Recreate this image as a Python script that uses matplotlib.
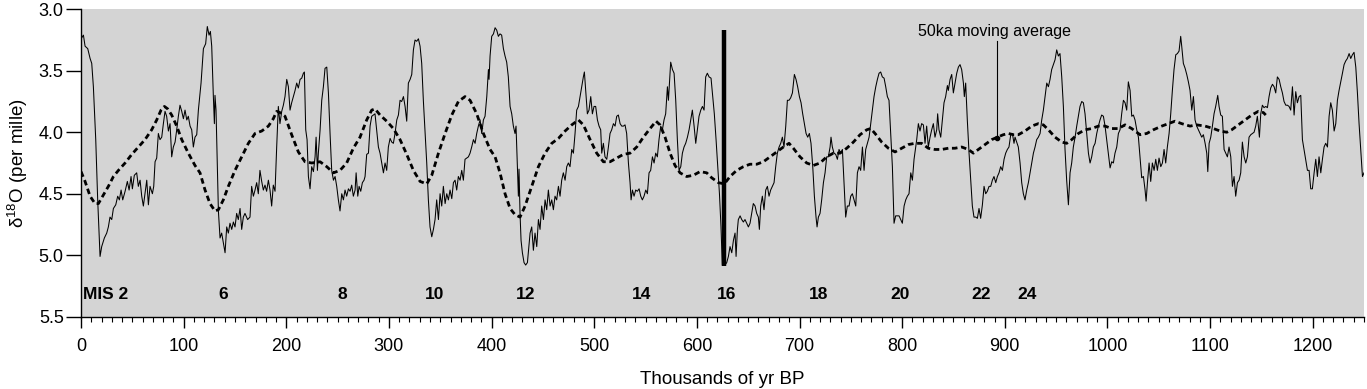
import matplotlib
matplotlib.use("Agg")
import matplotlib.pyplot as plt
from matplotlib.ticker import MultipleLocator, FormatStrFormatter

plt.rcParams['font.family'] = ['Liberation Sans', 'DejaVu Sans']
plt.rcParams['mathtext.fontset'] = 'custom'
plt.rcParams['mathtext.rm'] = 'Liberation Sans'

# benthic d18O record (ka BP, per mille)
age_ka = [
    0, 2.3, 3.9, 6.5, 8.8, 10.4, 12.0, 14.3, 16.2, 18.5, 20.1, 22.7, 25.0, 26.6, 28.2, 29.9,
    31.5, 33.8, 35.7, 37.3, 39.0, 40.6, 42.9, 45.1, 46.8, 48.7, 50.0, 51.9, 54.2, 55.8, 57.5,
    59.1, 60.7, 62.3, 64.0, 65.6, 67.2, 69.5, 70.8, 72.1, 73.7, 75.3, 76.9, 78.6, 80.2, 81.8,
    83.4, 85.1, 86.7, 88.3, 89.9, 91.6, 93.2, 94.8, 96.4, 98.1, 99.7, 101.3, 103.0, 104.5,
    106.2, 107.8, 109.4, 111.0, 112.7, 114.3, 116.9, 119.2, 121.4, 123.0, 124.7, 126.0, 127.3,
    128.9, 129.9, 130.5, 131.5, 133.8, 135.4, 137.0, 138.6, 140.3, 141.9, 143.5, 145.1, 146.8,
    148.4, 150.0, 151.6, 153.2, 154.9, 156.5, 158.1, 159.7, 162.3, 164.6, 166.2, 167.9, 169.5,
    171.1, 172.7, 174.3, 176.0, 177.6, 179.2, 180.8, 182.5, 184.1, 185.7, 187.3, 189.0, 190.6,
    192.2, 193.8, 195.5, 197.1, 198.7,
    200.4, 202.0, 203.6, 205.2, 206.9, 208.5, 210.1, 211.7, 213.4, 215.0, 216.6, 217.6, 218.9,
    220.2, 221.5, 223.1, 224.7, 226.4, 228.0, 229.0, 230.3, 231.2, 232.9, 234.5, 236.1, 237.7,
    239.4, 241.0, 242.6, 244.2, 245.9, 247.5, 249.1, 250.7, 252.3, 254.0, 255.6, 257.2, 258.8,
    260.5, 262.1, 263.7, 265.3, 267.0, 268.0, 269.6, 270.9, 272.5, 274.1, 275.7, 276.7, 278.3,
    280.0, 281.6, 283.2, 284.8, 286.4, 288.1, 289.7, 291.3, 292.9, 294.6, 296.2, 297.8, 299.4,
    301.1, 302.7, 304.3, 305.9, 307.6, 309.2, 310.8, 312.4, 314.1, 315.7, 317.3, 318.9, 320.6,
    322.2, 323.8, 325.4, 327.0, 328.7, 330.3, 331.9, 333.5, 335.2, 336.8, 338.4, 340.0, 341.7,
    343.3, 344.9, 346.5, 348.2, 349.8, 351.4, 353.0, 354.7, 356.3, 357.9, 359.5, 361.2, 362.8,
    364.4, 366.0, 367.6, 369.3, 370.9, 372.5, 374.1, 375.8, 377.4, 379.0, 380.6, 382.3, 383.9,
    385.5, 387.1, 388.8, 390.4, 392.0, 393.6, 395.3, 396.9, 397.5, 398.5, 400.1, 401.8,
    403.4, 405.0, 406.6, 408.2, 409.8, 411.5, 413.1, 414.7, 416.3, 418.0, 419.6, 421.2, 422.8,
    423.8, 425.1, 426.1, 426.7, 427.7, 428.7, 430.0, 431.6, 433.2, 434.9, 435.8, 437.5, 439.1,
    440.7, 442.3, 444.0, 445.6, 447.2, 448.8, 450.5, 452.1, 453.7, 455.3, 457.0, 458.6, 460.2,
    461.8, 463.4, 465.1, 466.7, 468.3, 469.9, 471.6, 473.2, 474.8, 476.4, 478.1, 479.7, 481.3,
    482.9, 484.6, 486.2, 487.8, 489.4, 490.4, 491.7, 493.3, 494.9, 496.6, 498.2, 499.8, 501.4,
    503.1, 504.7, 506.3, 507.3, 508.9, 510.5, 512.2, 513.8, 515.4, 517.0, 518.7, 520.3, 521.9,
    523.5, 525.2, 526.8, 528.4, 530.0, 531.6, 533.3, 534.9, 535.9, 537.2, 538.8, 540.4, 542.0,
    543.7, 545.3, 546.9, 548.5, 550.2, 551.8, 553.4, 555.0, 556.7, 558.3, 559.9, 561.5, 563.1,
    564.8, 566.4, 568.0, 569.6, 571.3, 572.3, 573.3, 574.5, 576.2, 577.8, 579.4, 581.0, 582.6,
    584.3, 585.9, 587.5, 589.1, 590.8, 592.4, 594.0, 595.6, 597.3, 598.9, 600.5, 602.1, 603.8,
    605.4, 607.0, 608.6, 610.2, 611.9,
    613.8, 615.1, 617.0, 618.7, 620.3, 622.0, 623.5, 624.8, 627.4, 629.1, 630.7, 632.3, 634.0,
    635.6, 637.2, 638.2, 639.5, 640.4, 642.1, 643.7, 645.3, 646.9, 648.6, 650.2, 651.8, 653.4,
    655.0, 656.7, 658.3, 659.9, 660.9, 662.2, 663.8, 665.4, 667.1, 668.7, 670.3, 671.9, 673.6,
    675.2, 676.8, 678.4, 680.1, 681.7, 683.3, 684.9, 686.6, 688.2, 689.8, 691.4, 693.1, 695.0,
    696.6, 698.2, 699.9, 701.5, 703.1, 704.7, 706.4, 708.0, 709.6, 711.2, 712.9, 714.5, 716.1,
    717.1, 718.4, 720.0, 721.6, 723.3, 724.9, 726.5, 728.1, 729.8, 730.7, 732.0, 733.6, 735.3,
    736.9, 738.5, 740.1, 741.8, 743.4, 745.0, 746.6, 748.3, 749.9, 751.5, 753.1, 754.8, 756.4,
    758.0, 759.6, 761.3, 762.9, 764.5, 766.1, 767.8, 769.4, 771.0, 772.6, 774.3, 775.9, 777.5,
    779.1, 780.7, 782.4, 784.0, 785.6, 787.2, 788.9, 790.5, 792.1, 793.7, 795.4, 797.0, 798.6,
    800.2, 801.9, 803.5, 805.1, 806.7, 808.4, 810.0, 811.6,
    814.2, 815.8, 817.4, 819.0, 820.7, 822.3, 823.9, 825.5, 827.2, 828.8, 830.4, 832.0, 833.7,
    834.6, 835.9, 837.6, 839.2, 840.8, 842.4, 844.1, 845.0, 846.7, 848.3, 849.9, 851.5, 853.2,
    854.8, 856.4, 858.0, 859.7, 860.6, 861.9, 863.5, 865.2, 866.8, 868.4, 870.0, 871.7, 873.3,
    874.9, 876.5, 878.2, 879.8, 881.4, 883.0, 884.7, 886.3, 887.9, 889.5, 891.2, 892.8, 894.4,
    896.0, 897.7, 899.3, 900.9, 902.5, 904.1, 905.8, 907.4, 909.0, 910.0, 911.6, 913.2, 914.9,
    916.5, 918.1, 919.7, 921.4, 923.0, 924.6, 926.2, 927.9, 929.5, 931.1, 932.7, 934.4, 936.0,
    937.6, 939.2, 940.9, 942.5, 944.1, 945.7, 947.4, 949.0, 950.6, 952.2, 953.8, 955.5, 957.1,
    958.7, 960.3, 962.0, 963.6, 965.2, 966.8, 968.5, 970.1, 971.7, 973.3, 975.0, 976.6, 978.2,
    979.8, 981.5, 983.1, 984.7, 986.3, 988.0, 989.6, 991.2, 992.8, 994.4, 996.1, 997.7, 999.3,
    1000.9, 1002.6, 1004.2, 1005.8, 1007.4, 1009.1, 1010.7, 1012.3, 1013.9, 1015.6, 1017.2,
    1018.8,
    1020.4, 1022.1, 1023.7, 1025.3, 1026.9, 1028.6, 1030.2, 1031.8, 1033.4, 1035.1, 1036.7,
    1037.7, 1039.0, 1040.6, 1042.2, 1043.8, 1045.5, 1047.1, 1048.7, 1050.3, 1052.0, 1053.6,
    1055.2, 1056.8, 1058.4, 1060.1, 1061.7, 1063.3, 1064.9, 1066.6, 1068.2, 1069.8, 1071.4,
    1072.4, 1074.0, 1075.7, 1077.3, 1078.9, 1080.5, 1082.2, 1083.8, 1085.4, 1087.0, 1088.7,
    1090.3, 1091.9, 1093.5, 1095.2, 1096.8, 1097.8, 1099.1, 1100.7, 1102.3, 1103.9, 1105.5,
    1107.5, 1108.8, 1110.4, 1112.0, 1113.7, 1115.3, 1116.9, 1118.5, 1120.2, 1121.8, 1123.4,
    1125.0, 1126.7, 1128.3, 1129.9, 1131.5, 1133.2, 1134.8, 1136.4, 1138.0, 1139.7, 1141.3,
    1142.9, 1144.5, 1146.1, 1147.1, 1148.1, 1149.4, 1151.0, 1152.6, 1154.3, 1155.9, 1157.5,
    1159.1, 1160.8, 1162.4, 1164.0, 1165.6, 1167.3, 1168.9, 1170.5, 1172.1, 1173.8, 1175.4,
    1177.0, 1178.6, 1180.3, 1181.9, 1183.5, 1185.1, 1186.8, 1188.4, 1190.0, 1191.6, 1193.2,
    1194.9, 1196.5, 1198.1, 1199.7, 1201.4, 1203.0, 1204.6, 1206.2, 1207.9, 1209.5, 1211.1,
    1212.7, 1214.4, 1216.0, 1217.6, 1219.2, 1220.9, 1222.5, 1224.1, 1225.7, 1227.4, 1229.0,
    1230.6, 1232.2, 1233.8, 1235.5, 1237.1, 1238.7, 1240.3, 1242.0, 1243.6, 1245.2, 1246.8,
    1248.5, 1250.0,
]
d18o = [
    3.24, 3.21, 3.30, 3.32, 3.40, 3.44, 3.63, 4.06, 4.55, 5.01, 4.93, 4.86, 4.82, 4.77, 4.69, 4.71,
    4.62, 4.59, 4.52, 4.55, 4.47, 4.55, 4.48, 4.40, 4.47, 4.36, 4.46, 4.35, 4.33, 4.44, 4.39,
    4.52, 4.60, 4.50, 4.39, 4.59, 4.44, 4.50, 4.44, 4.24, 4.21, 4.01, 4.06, 4.04, 3.93, 3.83,
    3.87, 3.99, 3.93, 4.20, 4.12, 4.08, 3.98, 3.87, 3.78, 3.83, 3.89, 3.82, 3.90, 3.87,
    3.95, 3.98, 4.12, 4.04, 4.02, 3.82, 3.60, 3.32, 3.28, 3.14, 3.21, 3.18, 3.30,
    3.71, 3.93, 3.70, 3.82, 4.64, 4.86, 4.82, 4.90, 4.98, 4.77, 4.82, 4.74, 4.79,
    4.73, 4.77, 4.66, 4.71, 4.62, 4.79, 4.69, 4.66, 4.71, 4.69, 4.44, 4.52, 4.47,
    4.41, 4.50, 4.31, 4.40, 4.47, 4.43, 4.48, 4.39, 4.47, 4.60, 4.43, 4.48, 4.12,
    3.79, 3.93, 3.83, 3.78, 3.71,
    3.57, 3.63, 3.82, 3.76, 3.71, 3.66, 3.60, 3.64, 3.57, 3.56, 3.52, 3.51, 3.98,
    4.06, 4.36, 4.46, 4.28, 4.32, 4.20, 4.04, 4.31, 4.17, 3.98, 3.74, 3.63, 3.48,
    3.47, 3.68, 4.01, 4.31, 4.39, 4.36, 4.44, 4.55, 4.64, 4.50, 4.55, 4.47, 4.52,
    4.46, 4.48, 4.43, 4.52, 4.47, 4.33, 4.52, 4.44, 4.48, 4.41, 4.39, 4.36, 4.18,
    4.17, 3.95, 3.87, 3.86, 3.85, 3.99, 4.12, 4.17, 4.25, 4.33, 4.25, 4.31, 4.12,
    4.05, 4.08, 4.09, 4.01, 3.90, 3.86, 3.74, 3.75, 3.71, 3.79, 3.91, 3.60, 3.57,
    3.53, 3.33, 3.25, 3.26, 3.24, 3.30, 3.44, 3.74, 4.01, 4.25, 4.55, 4.77, 4.85,
    4.79, 4.71, 4.55, 4.71, 4.50, 4.60, 4.44, 4.58, 4.50, 4.55, 4.47, 4.54, 4.41,
    4.39, 4.47, 4.36, 4.39, 4.31, 4.39, 4.22, 4.21, 4.20, 4.17, 4.12, 4.06, 4.09,
    4.01, 3.95, 3.90, 4.01, 3.90, 3.87, 3.71, 3.49, 3.57, 3.38, 3.22, 3.20,
    3.15, 3.17, 3.22, 3.20, 3.21, 3.32, 3.38, 3.43, 3.55, 3.79, 3.85, 3.95, 4.01,
    3.95, 4.28, 4.52, 4.30, 4.66, 4.88, 4.98, 5.06, 5.08, 5.06, 4.98, 4.82, 4.77,
    4.96, 4.82, 4.93, 4.71, 4.79, 4.60, 4.71, 4.55, 4.63, 4.47, 4.60, 4.55, 4.63,
    4.52, 4.55, 4.44, 4.52, 4.39, 4.33, 4.39, 4.28, 4.25, 4.28, 4.14, 4.17, 4.01,
    3.82, 3.79, 3.71, 3.63, 3.55, 3.51, 3.66, 3.85, 3.82, 3.71, 3.85, 3.79, 3.79,
    3.90, 3.95, 3.98, 4.17, 4.09, 4.20, 4.22, 4.12, 4.01, 3.98, 3.93, 3.95, 3.87,
    3.86, 3.93, 3.95, 3.95, 3.94, 4.01, 4.25, 4.41, 4.55, 4.47, 4.52, 4.47, 4.48,
    4.46, 4.52, 4.55, 4.52, 4.47, 4.50, 4.33, 4.31, 4.20, 4.25, 4.17, 4.20, 4.06,
    3.95, 3.98, 3.90, 3.85, 3.63, 3.74, 3.60, 3.43, 3.49, 3.52, 3.74, 4.06, 4.31,
    4.28, 4.17, 4.12, 4.09, 4.04, 3.98, 3.90, 3.82, 3.95, 4.09, 3.98, 3.87, 3.82,
    3.79, 3.82, 3.55, 3.52, 3.55,
    3.56, 3.68, 3.85, 4.06, 4.28, 4.50, 4.77, 5.08, 5.08, 5.06, 5.01, 4.93, 4.98,
    4.88, 4.82, 5.01, 4.79, 4.71, 4.68, 4.71, 4.73, 4.71, 4.74, 4.77, 4.74, 4.66,
    4.58, 4.60, 4.66, 4.69, 4.79, 4.60, 4.52, 4.63, 4.47, 4.44, 4.52, 4.47, 4.44,
    4.41, 4.28, 4.17, 4.12, 4.09, 4.04, 4.12, 3.95, 3.74, 3.74, 3.72, 3.68, 3.53,
    3.57, 3.63, 3.71, 3.76, 3.85, 3.93, 4.01, 4.04, 4.01, 4.09, 4.28, 4.52, 4.69,
    4.77, 4.69, 4.66, 4.55, 4.41, 4.33, 4.20, 4.20, 4.12, 4.04, 4.12, 4.17, 4.18,
    4.22, 4.14, 4.17, 4.14, 4.41, 4.69, 4.60, 4.60, 4.52, 4.50, 4.55, 4.60, 4.33,
    4.28, 4.31, 4.12, 4.31, 4.14, 4.09, 4.04, 3.93, 3.82, 3.71, 3.63, 3.57, 3.52,
    3.51, 3.55, 3.56, 3.63, 3.71, 3.74, 4.01, 4.28, 4.74, 4.68, 4.68, 4.68, 4.71,
    4.74, 4.60, 4.55, 4.52, 4.50, 4.33, 4.39, 4.22,
    4.06, 3.93, 3.99, 3.93, 3.94, 4.09, 3.95, 4.12, 4.04, 3.98, 3.93, 4.04, 3.98,
    3.85, 3.98, 4.04, 3.90, 3.76, 3.71, 3.62, 3.66, 3.57, 3.53, 3.68, 3.60, 3.52,
    3.47, 3.45, 3.49, 3.60, 3.71, 3.60, 3.90, 4.17, 4.39, 4.60, 4.69, 4.69, 4.70,
    4.62, 4.70, 4.59, 4.44, 4.50, 4.48, 4.44, 4.44, 4.39, 4.36, 4.41, 4.36, 4.33,
    4.28, 4.31, 4.22, 4.17, 4.14, 4.12, 4.02, 4.01, 4.09, 4.04, 4.08, 4.12, 4.25,
    4.41, 4.50, 4.55, 4.47, 4.41, 4.33, 4.25, 4.17, 4.12, 4.06, 4.04, 4.01, 3.90,
    3.82, 3.71, 3.60, 3.63, 3.57, 3.49, 3.45, 3.41, 3.33, 3.38, 3.36, 3.55, 3.79,
    4.14, 4.39, 4.59, 4.33, 4.25, 4.12, 4.04, 3.95, 3.87, 3.79, 3.75, 3.76, 3.85,
    4.01, 4.17, 4.25, 4.20, 4.12, 4.09, 4.01, 3.95, 3.90, 3.86, 3.87, 3.95, 4.06,
    4.17, 4.29, 4.24, 4.25, 4.17, 4.12, 4.01, 3.98, 3.85, 3.74, 3.76,
    3.82,
    3.59, 3.66, 3.87, 3.86, 3.90, 3.98, 4.04, 4.20, 4.37, 4.36, 4.47,
    4.56, 4.41, 4.25, 4.40, 4.25, 4.31, 4.22, 4.31, 4.21, 4.28, 4.25,
    4.14, 4.25, 4.12, 4.01, 3.85, 3.66, 3.49, 3.37, 3.36, 3.34, 3.22,
    3.30, 3.44, 3.48, 3.53, 3.59, 3.66, 3.82, 3.71, 3.90, 3.95, 3.98,
    4.01, 4.04, 4.02, 4.09, 4.17, 4.32, 4.09, 4.04, 3.95, 3.85, 3.79,
    3.70, 3.79, 3.86, 3.87, 4.14, 4.17, 4.20, 4.12, 4.20, 4.44, 4.36,
    4.52, 4.41, 4.39, 4.33, 4.08, 4.20, 4.25, 4.20, 4.04, 4.02, 4.01,
    4.00, 3.95, 3.87, 3.95, 4.04, 3.85, 3.78, 3.80, 3.79, 3.80, 3.71,
    3.64, 3.61, 3.63, 3.68, 3.55, 3.57, 3.63, 3.68, 3.75, 3.78, 3.78,
    3.79, 3.82, 3.63, 3.86, 3.67, 3.76, 3.71, 3.70, 4.06, 4.14, 4.22,
    4.31, 4.31, 4.46, 4.46, 4.33, 4.22, 4.36, 4.20, 4.33, 4.22, 4.12,
    4.09, 4.12, 3.87, 3.76, 3.82, 3.99, 3.93, 3.74, 3.66, 3.59, 3.52,
    3.45, 3.42, 3.40, 3.36, 3.40, 3.37, 3.35, 3.47, 3.68, 3.93, 4.14,
    4.36, 4.33,
]

# 50 ka moving average
ma_age = [
    0, 3.9, 8.8, 13.6, 16.9, 21.8, 26.6, 31.5, 36.4, 42.9, 49.4, 55.8, 62.3, 68.8, 73.7, 77.9,
    81.2, 84.4, 88.3, 93.2, 98.1, 104.5, 111.0, 115.9, 120.8, 125.6, 130.5, 133.8, 138.6, 143.5,
    150.0, 156.5, 163.0, 169.5, 176.0, 182.5, 187.3, 190.6, 193.8, 198.7, 205.2, 211.7, 218.2,
    224.7, 232.9, 239.4, 245.9, 252.3, 258.8, 265.3, 271.8, 278.3, 283.2, 286.4, 291.3, 297.8,
    304.3, 310.8, 317.3, 323.8, 330.3, 336.8, 341.7, 348.2, 354.7, 361.2, 367.6, 374.1, 379.0,
    385.5, 392.0, 398.5, 403.4, 408.2, 413.1, 418.0, 422.8, 427.7, 432.6, 439.1, 445.6, 452.1,
    458.6, 465.1, 471.6, 478.1, 484.6, 489.4, 496.0, 502.4, 508.9, 515.4, 521.9, 528.4, 534.9,
    541.4, 547.9, 554.4, 560.2, 564.1, 569.0, 573.9, 578.7, 583.6, 590.1, 596.6, 603.1, 609.6,
    614.4, 621.0, 626.8, 632.3, 638.8, 645.3, 651.8, 658.3, 664.8, 671.3, 677.8, 684.3, 689.8,
    694.0, 700.5, 707.0, 713.5, 720.0, 726.5, 733.0, 739.5, 746.0, 752.5, 759.0, 765.5, 769.4,
    773.6, 780.1, 786.6, 793.1, 799.6, 806.1, 812.6, 819.0, 825.5, 832.0, 838.5, 845.0, 851.5,
    858.0, 864.5, 869.4, 874.3, 880.8, 887.3, 892.8, 898.6, 903.5, 908.4, 913.2, 919.7, 926.2,
    932.7, 937.6, 942.5, 949.0, 955.5, 960.3, 965.2, 971.7, 978.2, 984.7, 991.2, 997.7, 1004.2,
    1010.7, 1017.2, 1023.7, 1031.8, 1038.3, 1044.8, 1052.9, 1059.4, 1065.9, 1072.4, 1080.5,
    1087.0, 1095.2, 1103.3, 1109.8, 1116.3, 1121.1, 1127.6, 1134.1, 1140.6, 1147.1, 1152.0,
    1154.3,
]
ma_d18o = [
    4.32, 4.40, 4.52, 4.58, 4.58, 4.51, 4.44, 4.36, 4.31, 4.25, 4.18, 4.12, 4.06, 3.98, 3.90, 3.82,
    3.79, 3.81, 3.86, 3.95, 4.06, 4.17, 4.27, 4.33, 4.47, 4.58, 4.64, 4.63, 4.55, 4.44,
    4.31, 4.20, 4.09, 4.01, 3.99, 3.95, 3.89, 3.83, 3.84, 3.87, 4.02, 4.16, 4.24,
    4.25, 4.24, 4.28, 4.33, 4.31, 4.25, 4.13, 4.04, 3.90, 3.82, 3.81, 3.86, 3.91,
    3.97, 4.06, 4.18, 4.31, 4.40, 4.42, 4.35, 4.17, 4.01, 3.86, 3.75, 3.71, 3.74,
    3.85, 4.01, 4.14, 4.20, 4.33, 4.50, 4.62, 4.67, 4.69, 4.60, 4.44, 4.28, 4.17,
    4.09, 4.05, 3.99, 3.94, 3.90, 3.94, 4.06, 4.17, 4.24, 4.24, 4.21, 4.18, 4.17,
    4.12, 4.04, 3.97, 3.91, 3.94, 4.04, 4.17, 4.27, 4.33, 4.36, 4.35, 4.32, 4.33,
    4.37, 4.41, 4.42, 4.36, 4.31, 4.28, 4.26, 4.26, 4.24, 4.20, 4.16, 4.12, 4.09,
    4.13, 4.20, 4.25, 4.27, 4.25, 4.20, 4.17, 4.17, 4.13, 4.08, 4.02, 3.98, 3.97,
    4.01, 4.08, 4.13, 4.16, 4.13, 4.10, 4.09, 4.09, 4.13, 4.14, 4.14, 4.13, 4.13,
    4.12, 4.14, 4.17, 4.14, 4.10, 4.06, 4.04, 4.02, 4.01, 4.02, 4.02, 3.99, 3.95,
    3.93, 3.94, 3.98, 4.04, 4.08, 4.09, 4.06, 4.01, 3.98, 3.97, 3.95, 3.95, 3.97,
    3.97, 3.94, 3.97, 4.02, 4.01, 3.98, 3.95, 3.93, 3.91, 3.93, 3.95,
    3.94, 3.95, 3.97, 3.99, 4.00, 3.98, 3.94, 3.90, 3.86, 3.83, 3.84,
    3.86,
]

mis_labels = ['MIS 2', '6', '8', '10', '12', '14', '16', '18', '20', '22', '24']
mis_age = [2, 138.6, 255, 344, 433.6, 546, 629, 719, 798, 876.8, 922]
mis_level = 5.32

bar_age = 626
bar_top, bar_bottom = 3.17, 5.09

note_text = '50ka moving average'
note_age, note_d18o = 892.2, 4.05
note_top = 3.26

fig = plt.figure(figsize=(13.67, 3.89), dpi=100)
ax = fig.add_axes([0.0593, 0.1859, 0.9385, 0.7902])
ax.set_facecolor('#d4d4d4')

ax.plot(age_ka, d18o, color='black', lw=0.75)
ax.plot(ma_age, ma_d18o, color='black', lw=2.0, dashes=(2.0, 1.3))
ax.plot([bar_age, bar_age], [bar_top, bar_bottom], color='black', lw=3.2, solid_capstyle='butt')

ax.plot([note_age, note_age], [note_top, note_d18o], color='black', lw=0.8)
ax.plot([note_age], [note_d18o], 'o', color='black', ms=3)
ax.text(815.5, 3.18, note_text, fontsize=11.5, ha='left', va='center')

for i, (lab, x) in enumerate(zip(mis_labels, mis_age)):
    ax.text(x, mis_level, lab, ha='left' if i == 0 else 'center', va='center',
            fontsize=12.5, fontweight='bold')

ax.set_xlim(0, 1250)
ax.set_ylim(5.5, 3.0)
ax.xaxis.set_major_locator(MultipleLocator(100))
ax.xaxis.set_minor_locator(MultipleLocator(10))
ax.yaxis.set_major_locator(MultipleLocator(0.5))
ax.yaxis.set_major_formatter(FormatStrFormatter('%.1f'))

for side in ['top', 'right']:
    ax.spines[side].set_visible(False)
for side in ['left', 'bottom']:
    ax.spines[side].set_linewidth(1.0)

ax.tick_params(axis='x', which='major', direction='out', length=8, width=1.0, labelsize=13, pad=7)
ax.tick_params(axis='x', which='minor', direction='out', length=3.5, width=0.8)
ax.tick_params(axis='y', which='major', direction='out', length=11, width=1.0, labelsize=13, pad=1.5)

ax.set_xlabel('Thousands of yr BP', fontsize=13.5, labelpad=12)
ax.set_ylabel(r'δ$^{\mathregular{18}}$O (per mille)', fontsize=13.5, labelpad=6)

fig.savefig('out.png', dpi=100)
